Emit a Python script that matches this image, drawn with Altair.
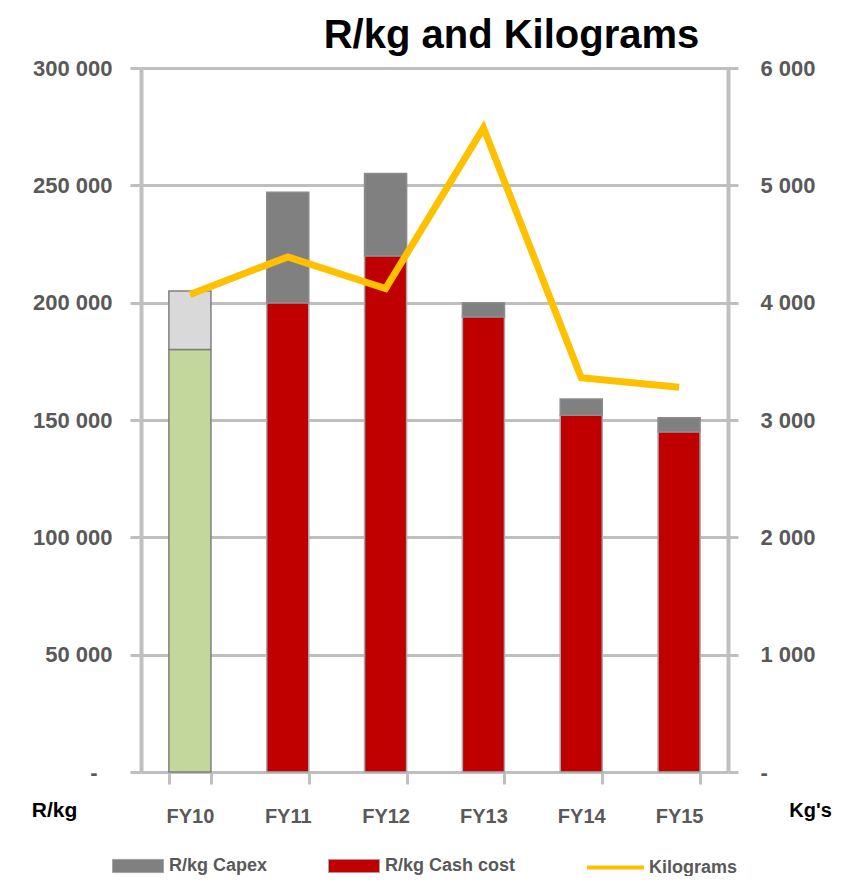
import altair as alt
import pandas as pd

# ---- data ----
categories = ["FY10", "FY11", "FY12", "FY13", "FY14", "FY15"]
cash_cost = [180000, 200000, 220000, 194000, 152000, 145000]
capex = [25000, 47000, 35000, 6000, 7000, 6000]
kilograms = [4070, 4390, 4120, 5490, 3360, 3280]

left_ticks = [0, 50000, 100000, 150000, 200000, 250000, 300000]
right_ticks = [0, 1000, 2000, 3000, 4000, 5000, 6000]

rows = []
for i, c in enumerate(categories):
    first = (i == 0)
    rows.append({"cat": c, "lo": 0, "hi": cash_cost[i],
                 "key": "FY10 Cash" if first else "R/kg Cash cost",
                 "edge": "#7F7F7F" if first else "#A3ABAF"})
    rows.append({"cat": c, "lo": cash_cost[i], "hi": cash_cost[i] + capex[i],
                 "key": "FY10 Capex" if first else "R/kg Capex",
                 "edge": "#7F7F7F" if first else "#8C8C8C"})
bars_df = pd.DataFrame(rows)
line_df = pd.DataFrame({"cat": categories, "kg": kilograms, "series": ["Kilograms"] * len(categories)})

FONT = "Liberation Sans"
GRID = "#BFBFBF"
LABEL = "#595959"

x_enc = alt.X(
    "cat:N", sort=categories,
    scale=alt.Scale(paddingInner=0.57, paddingOuter=0.285),
    axis=alt.Axis(title=None, labelAngle=0, tickBand="extent", tickSize=12, tickWidth=3,
                  tickColor=GRID, domain=False, labelFont=FONT, labelFontSize=20,
                  labelFontWeight="bold", labelColor=LABEL, labelPadding=22),
)

rect_path = "M-1,-0.26L1,-0.26L1,0.26L-1,0.26Z"

bars = alt.Chart(bars_df).mark_bar(strokeWidth=1.5).encode(
    x=x_enc,
    y=alt.Y("lo:Q", scale=alt.Scale(domain=[0, 300000], nice=False),
            axis=alt.Axis(values=left_ticks, grid=True, gridColor=GRID, gridWidth=3,
                          domainColor=GRID, domainWidth=4, tickColor=GRID, tickWidth=3,
                          tickSize=11, labelFont=FONT, labelFontSize=22, labelFontWeight="bold",
                          labelColor=LABEL,
                          labelPadding={"condition": {"test": "datum.value === 0", "value": 33},
                                        "value": 18},
                          labelExpr="datum.value == 0 ? '-' : replace(format(datum.value, ','), ',', ' ')",
                          title="R/kg", titleAngle=0, titleX=-87, titleY=742, titleAlign="center",
                          titleBaseline="middle", titleFont=FONT, titleFontSize=21,
                          titleFontWeight="bold", titleColor="black")),
    y2="hi:Q",
    color=alt.Color("key:N",
                    scale=alt.Scale(domain=["R/kg Capex", "R/kg Cash cost", "FY10 Cash", "FY10 Capex"],
                                    range=["#808080", "#C00000", "#C3D69B", "#D9D9D9"]),
                    legend=alt.Legend(title=None, orient="none", legendX=-29, legendY=772,
                                      direction="horizontal", values=["R/kg Capex", "R/kg Cash cost"],
                                      symbolType=rect_path, symbolSize=2601, symbolStrokeColor="#A6A6A6",
                                      symbolStrokeWidth=1, labelFont=FONT, labelFontSize=18,
                                      labelFontWeight="bold", labelColor=LABEL, labelOffset=5,
                                      columnPadding=58)),
    stroke=alt.Stroke("edge:N", scale=None),
)

line = alt.Chart(line_df).mark_line(strokeWidth=7, strokeJoin="miter").encode(
    x=x_enc,
    y=alt.Y("kg:Q", scale=alt.Scale(domain=[0, 6000], nice=False),
            axis=alt.Axis(orient="right", values=right_ticks, grid=False,
                          domainColor=GRID, domainWidth=4, tickColor=GRID, tickWidth=3,
                          tickSize=10, labelFont=FONT, labelFontSize=22, labelFontWeight="bold",
                          labelColor=LABEL, labelPadding=22,
                          labelExpr="datum.value == 0 ? ' -' : replace(format(datum.value, ','), ',', ' ')",
                          title="Kg's", titleAngle=0, titleX=82, titleY=742, titleAlign="center",
                          titleBaseline="middle", titleFont=FONT, titleFontSize=20,
                          titleFontWeight="bold", titleColor="black")),
    stroke=alt.Stroke("series:N", scale=alt.Scale(domain=["Kilograms"], range=["#FFC000"]),
                      legend=alt.Legend(title=None, orient="none", legendX=444, legendY=769,
                                        symbolType="stroke", symbolSize=3249, symbolStrokeWidth=4,
                                        labelFont=FONT, labelFontSize=18, labelFontWeight="bold",
                                        labelColor=LABEL, labelOffset=3)),
)

chart = alt.layer(bars, line).resolve_scale(y="independent").properties(
    width=587, height=704,
    title=alt.Title("R/kg and Kilograms", fontSize=40, font=FONT, fontWeight="bold",
                    color="black", anchor="middle", dx=77, offset=1),
    autosize=alt.AutoSizeParams(type="none"),
    padding={"left": 133, "top": 60, "right": 108, "bottom": 104},
).configure_view(strokeWidth=0)

chart.save("out.html", embed_options={"renderer": "svg", "actions": False})
